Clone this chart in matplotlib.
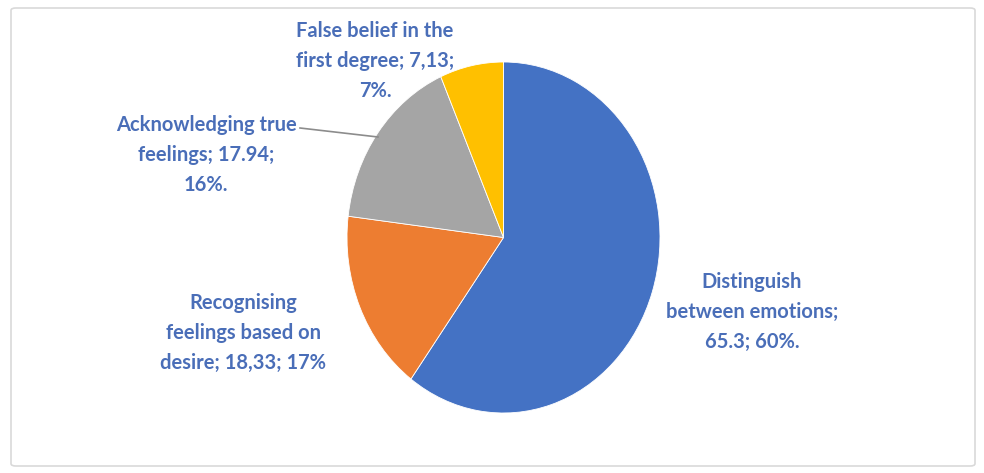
import matplotlib
matplotlib.use("Agg")
import matplotlib.pyplot as plt
from matplotlib.patches import FancyBboxPatch
from matplotlib import font_manager

# data
categories = ["Distinguish\nbetween emotions;\n65.3; 60%.",
              "Recognising\nfeelings based on\ndesire; 18,33; 17%",
              "Acknowledging true\nfeelings; 17.94;\n16%.",
              "False belief in the\nfirst degree; 7,13;\n7%."]
values = [65.3, 18.33, 17.94, 7.13]
colors = ["#4472C4", "#ED7D31", "#A5A5A5", "#FFC000"]

# pick a narrow-ish bold font like Calibri
names = {f.name for f in font_manager.fontManager.ttflist}
fam = [n for n in ["Liberation Sans Narrow", "Lato", "DejaVu Sans"] if n in names]
plt.rcParams['font.family'] = fam
text_color = "#4A6EB8"

W, H = 984, 473
fig = plt.figure(figsize=(W / 100, H / 100), dpi=100)

# light frame around the chart
frame = FancyBboxPatch((11 / W, 7 / H), 964 / W, 458 / H,
                       boxstyle="round,pad=0,rounding_size=0.005",
                       transform=fig.transFigure, fill=False,
                       edgecolor="#D9D9D9", linewidth=1.2)
fig.patches.append(frame)

# pie is slightly stretched vertically in the reference
ax = fig.add_axes([347 / W, 1 - 413 / H, 313 / W, 351 / H])
wedges, _ = ax.pie(values, colors=colors, startangle=90, counterclock=False,
                   wedgeprops=dict(edgecolor="white", linewidth=0.6))
ax.set_aspect('auto')
ax.set_xlim(-1, 1)
ax.set_ylim(-1, 1)
ax.axis('off')

# label positions (pixel centres, top-left origin)
label_pos = [(752, 312), (243, 333), (206, 155), (375, 61)]
for lab, (px, py) in zip(categories, label_pos):
    fig.text(px / W, 1 - py / H, lab, ha='center', va='center',
             fontsize=14.5, fontweight='bold', color=text_color,
             linespacing=1.62)

# leader line for the grey slice
fig.add_artist(plt.Line2D([300 / W, 378 / W], [1 - 128 / H, 1 - 137 / H],
                          transform=fig.transFigure, color="#8C8C8C", lw=1.2))

fig.savefig("out.png", dpi=100, facecolor="white")
